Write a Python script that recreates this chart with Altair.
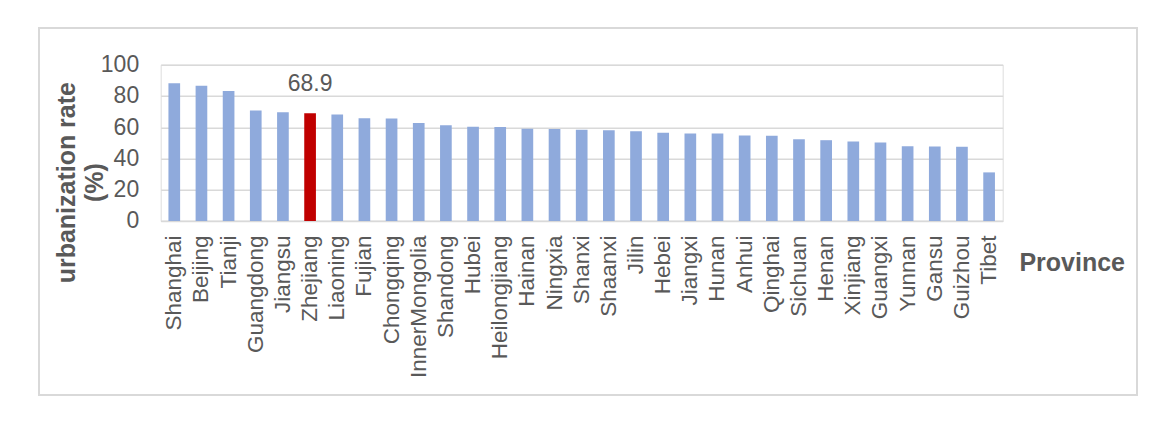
import altair as alt
import pandas as pd

provinces = ["Shanghai", "Beijing", "Tianji", "Guangdong", "Jiangsu", "Zhejiang",
             "Liaoning", "Fujian", "Chongqing", "InnerMongolia", "Shandong", "Hubei",
             "Heilongjiang", "Hainan", "Ningxia", "Shanxi", "Shaanxi", "Jilin", "Hebei",
             "Jiangxi", "Hunan", "Anhui", "Qinghai", "Sichuan", "Henan", "Xinjiang",
             "Guangxi", "Yunnan", "Gansu", "Guizhou", "Tibet"]
rates = [88.1, 86.5, 83.2, 70.7, 69.6, 68.9, 68.1, 65.8, 65.5, 62.7, 61.2, 60.3,
         60.1, 59.1, 58.9, 58.4, 58.1, 57.5, 56.4, 56.0, 56.0, 54.7, 54.5, 52.3,
         51.7, 50.9, 50.2, 47.8, 47.7, 47.5, 31.1]
highlight = "Zhejiang"
y_ticks = [0, 20, 40, 60, 80, 100]
y_title_lines = ["urbanization rate", "(%)"]
x_title = "Province"

BLUE = "#8faadc"
RED = "#c00000"
GREY = "#595959"
GRID = "#d9d9d9"
FONT = "Liberation Sans"

df = pd.DataFrame({
    "Province": provinces,
    "rate": rates,
    "color": [RED if p == highlight else BLUE for p in provinces],
})

W, H = 842, 156.3

x_enc = alt.X("Province:N", sort=provinces,
              scale=alt.Scale(paddingInner=0.57, paddingOuter=0.285),
              axis=alt.Axis(title=x_title, labelAngle=270, labelFontSize=22.5,
                            labelColor=GREY, labelFont=FONT, labelPadding=14,
                            labelOverlap=False, labelLimit=400, ticks=False,
                            domainColor=GRID, domainWidth=1.5,
                            titleFont=FONT, titleFontSize=25, titleFontWeight="bold",
                            titleColor=GREY, titleX=911, titleY=50,
                            titleAlign="center", titleBaseline="alphabetic",
                            titleAngle=0))
y_enc = alt.Y("rate:Q", scale=alt.Scale(domain=[0, 100], nice=False),
              axis=alt.Axis(title=None, values=y_ticks, labelFontSize=23,
                            labelColor=GREY, labelFont=FONT, labelPadding=22,
                            labelOverlap=False, labelFlush=False, ticks=False,
                            domain=False, grid=True, gridColor=GRID, gridWidth=1.5))

bars = alt.Chart(df).mark_bar().encode(
    x=x_enc, y=y_enc, color=alt.Color("color:N", scale=None)
)

label = alt.Chart(df).transform_filter(
    alt.datum.Province == highlight
).mark_text(dy=-22, fontSize=23, color=GREY, font=FONT, baseline="alphabetic").encode(
    x=x_enc, y=y_enc, text=alt.Text("rate:Q", format=".1f")
)

t1 = alt.Chart(pd.DataFrame({"t": [y_title_lines[0]]})).mark_text(
    angle=270, fontSize=25, fontWeight="bold", color=GREY, font=FONT,
    align="center", baseline="alphabetic"
).encode(text="t:N", x=alt.value(-86), y=alt.value(118))

t2 = alt.Chart(pd.DataFrame({"t": [y_title_lines[1]]})).mark_text(
    angle=270, fontSize=25, fontWeight="bold", color=GREY, font=FONT,
    align="center", baseline="alphabetic"
).encode(text="t:N", x=alt.value(-58), y=alt.value(118))

border = alt.Chart(pd.DataFrame({"b": [0]})).mark_rect(
    fillOpacity=0, stroke=GRID, strokeWidth=2, clip=False
).encode(x=alt.value(-121.7), x2=alt.value(976.3), y=alt.value(-36.7), y2=alt.value(330.3))

chart = alt.layer(border, bars, label, t1, t2).properties(
    width=W, height=H,
    padding={"left": 160.7, "top": 64.7, "right": 173, "bottom": 201},
    autosize=alt.AutoSizeParams(type="none"),
).configure_view(stroke=None).configure(background="white")

chart.save("out.html", embed_options={"renderer": "svg", "actions": False})
